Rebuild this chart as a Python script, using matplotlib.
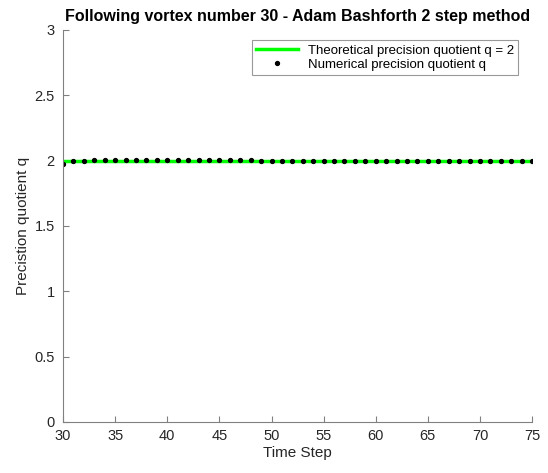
import numpy as np
import matplotlib.pyplot as plt

plt.rcParams.update({
    "font.family": ["Liberation Sans", "DejaVu Sans"],
    "font.size": 10.5,
    "axes.titlesize": 11.5,
    "axes.labelsize": 11,
    "xtick.labelsize": 10.5,
    "ytick.labelsize": 10.5,
    "legend.fontsize": 9.5,
})

# Data
time_step = list(range(30, 76))
q_numerical = [1.975, 1.993, 2.000, 2.003, 2.005, 2.006, 2.006, 2.006, 2.005, 2.005,
               2.004, 2.004, 2.003, 2.003, 2.002, 2.002, 2.001, 2.001, 2.001, 2.000,
               2.000, 2.000, 2.000, 1.999, 1.999, 1.999, 1.999, 1.998, 1.998, 1.998,
               1.998, 1.997, 1.997, 1.997, 1.997, 1.996, 1.996, 1.996, 1.996, 1.995,
               1.995, 1.995, 1.995, 1.994, 1.994, 1.994]
q_theory = 2

fig = plt.figure(figsize=(5.48, 4.73), dpi=100)
ax = fig.add_axes([0.115, 0.108, 0.856, 0.829])

ax.plot(time_step, [q_theory] * len(time_step), color="#00ff00", linewidth=2.5,
        label="Theoretical precision quotient q = 2")
ax.plot(time_step, q_numerical, linestyle="none", marker="o", markersize=2.8,
        color="black", label="Numerical precision quotient q")

ax.set_xlim(30, 75)
ax.set_ylim(0, 3)
ax.set_xticks(range(30, 76, 5))
ax.set_yticks([0, 0.5, 1, 1.5, 2, 2.5, 3])
ax.set_yticklabels(["0", "0.5", "1", "1.5", "2", "2.5", "3"])
ax.set_xlabel("Time Step", color="#262626", labelpad=2)
ax.set_ylabel("Precistion quotient q", color="#262626", labelpad=3)
ax.set_title("Following vortex number 30 - Adam Bashforth 2 step method",
             fontweight="bold", pad=6)

# MATLAB-like look: gray axes, inward ticks, no box
for spine in ["top", "right"]:
    ax.spines[spine].set_visible(False)
for spine in ["left", "bottom"]:
    ax.spines[spine].set_color("#808080")
    ax.spines[spine].set_linewidth(0.8)
ax.tick_params(direction="in", length=4, color="#808080", labelcolor="#262626")
ax.tick_params(axis="x", pad=5)
ax.tick_params(axis="y", pad=6)

leg = ax.legend(loc="upper right", frameon=True, fancybox=False, borderpad=0.3,
                handlelength=3.2, labelspacing=0.15, bbox_to_anchor=(0.985, 0.99))
leg.get_frame().set_edgecolor("#808080")
leg.get_frame().set_linewidth(0.8)

plt.savefig("out.png", dpi=100)
